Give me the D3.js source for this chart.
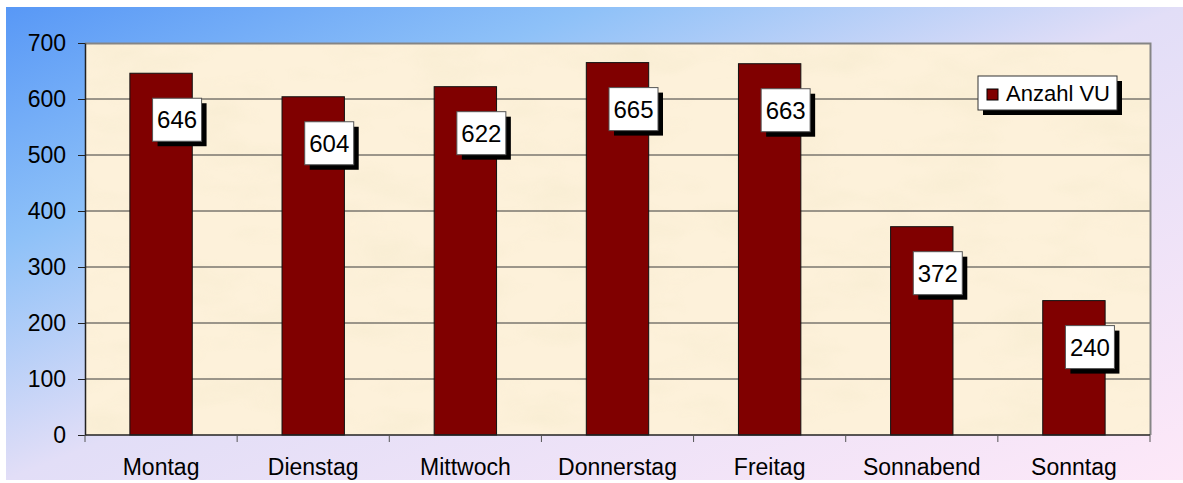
<!DOCTYPE html>
<html>
<head>
<meta charset="utf-8">
<script src="https://cdn.jsdelivr.net/npm/d3@7"></script>
<style>
  body { margin: 0; background: #fff; }
  svg { display: block; font-family: Arial, "Liberation Sans", sans-serif; }
</style>
</head>
<body>
<div id="chart"></div>
<script>
// data
var days = ['Montag', 'Dienstag', 'Mittwoch', 'Donnerstag', 'Freitag', 'Sonnabend', 'Sonntag'];
var anzahlVU = [646, 604, 622, 665, 663, 372, 240];
var yTicks = [0, 100, 200, 300, 400, 500, 600, 700];
var seriesName = 'Anzahl VU';

var W = 1183, H = 483;
var margin = { top: 43, right: 33, bottom: 48, left: 85 },
  width = W - margin.left - margin.right,
  height = H - margin.top - margin.bottom;

var svg = d3.select('#chart').append('svg')
  .attr('width', W)
  .attr('height', H);

var defs = svg.append('defs');
var bgGrad = defs.append('linearGradient')
  .attr('id', 'bg')
  .attr('x1', 0).attr('y1', 0).attr('x2', 1).attr('y2', 1);
bgGrad.append('stop').attr('offset', 0).attr('stop-color', '#5898f6');
bgGrad.append('stop').attr('offset', 0.25).attr('stop-color', '#8ec1f8');
bgGrad.append('stop').attr('offset', 0.5).attr('stop-color', '#e2def7');
bgGrad.append('stop').attr('offset', 1).attr('stop-color', '#fde8f8');

// soft parchment texture
var tex = defs.append('filter').attr('id', 'paper')
  .attr('x', 0).attr('y', 0).attr('width', 1).attr('height', 1);
tex.append('feTurbulence')
  .attr('type', 'fractalNoise')
  .attr('baseFrequency', '0.012 0.03')
  .attr('numOctaves', 3)
  .attr('seed', 4);
tex.append('feColorMatrix')
  .attr('type', 'matrix')
  .attr('values', '0 0 0 0 0.85  0 0 0 0 0.78  0 0 0 0 0.55  0 0 0 -1.6 0.9');
tex.append('feComposite').attr('in2', 'SourceGraphic').attr('operator', 'in');

// outer background
svg.append('rect')
  .attr('x', 6).attr('y', 7)
  .attr('width', W - 6).attr('height', H - 10)
  .attr('fill', 'url(#bg)');

var g = svg.append('g')
  .attr('transform', 'translate(' + margin.left + ',' + margin.top + ')');

var x = d3.scaleBand()
  .domain(days)
  .range([0, width])
  .paddingInner(0.59)
  .paddingOuter(0.295);

var y = d3.scaleLinear()
  .domain([0, 700])
  .range([height, 0]);

// plot area
g.append('rect')
  .attr('width', width).attr('height', height)
  .attr('fill', '#fdf1da');
g.append('rect')
  .attr('width', width).attr('height', height)
  .attr('fill', '#fdf1da')
  .attr('opacity', 0.35)
  .attr('filter', 'url(#paper)');

// grid lines
g.selectAll('.grid')
  .data(yTicks.filter(function(d) { return d > 0 && d < 700; }))
  .enter().append('line')
  .attr('x1', 0).attr('x2', width)
  .attr('y1', function(d) { return y(d); })
  .attr('y2', function(d) { return y(d); })
  .attr('stroke', '#3a3a3a')
  .attr('stroke-width', 1);

// top and right border
g.append('path')
  .attr('d', 'M0,0.5H' + (width + 0.5) + 'V' + height)
  .attr('fill', 'none')
  .attr('stroke', '#858585')
  .attr('stroke-width', 2);

// bars
g.selectAll('.bar')
  .data(anzahlVU)
  .enter().append('rect')
  .attr('x', function(d, i) { return x(days[i]); })
  .attr('y', function(d) { return y(d); })
  .attr('width', x.bandwidth())
  .attr('height', function(d) { return height - y(d); })
  .attr('fill', '#800000')
  .attr('stroke', '#111')
  .attr('stroke-width', 1);

// y axis
var yAxis = g.append('g')
  .call(d3.axisLeft(y).tickValues(yTicks).tickSize(7).tickPadding(12).tickSizeOuter(0));
yAxis.select('.domain').attr('stroke', '#222').attr('stroke-width', 1.5);
yAxis.selectAll('.tick line').attr('stroke', '#222');
yAxis.selectAll('.tick text')
  .attr('font-size', 23)
  .attr('font-family', 'Arial, "Liberation Sans", sans-serif')
  .attr('fill', '#000');

// x axis: ticks at the band borders
var step = x.step();
var xAxis = g.append('g')
  .attr('transform', 'translate(0,' + height + ')');
xAxis.append('line')
  .attr('x1', 0).attr('x2', width)
  .attr('stroke', '#222').attr('stroke-width', 1.5);
xAxis.selectAll('.xt')
  .data(d3.range(days.length + 1))
  .enter().append('line')
  .attr('x1', function(i) { return i * step; })
  .attr('x2', function(i) { return i * step; })
  .attr('y1', 0).attr('y2', 7)
  .attr('stroke', '#555');
xAxis.selectAll('.xl')
  .data(days)
  .enter().append('text')
  .attr('x', function(d) { return x(d) + x.bandwidth() / 2; })
  .attr('y', 40)
  .attr('text-anchor', 'middle')
  .attr('font-size', 23)
  .attr('fill', '#000')
  .text(function(d) { return d; });

// value labels, shifted down and right of the bar top
var boxW = 49, boxH = 43;
var labels = g.selectAll('.lbl')
  .data(anzahlVU)
  .enter().append('g')
  .attr('transform', function(d, i) {
    var cx = x(days[i]) + x.bandwidth() / 2 + 16;
    return 'translate(' + cx + ',' + (y(d) + 25) + ')';
  });
labels.append('rect')
  .attr('x', -boxW / 2 + 5).attr('y', 5)
  .attr('width', boxW).attr('height', boxH)
  .attr('fill', '#000');
labels.append('rect')
  .attr('x', -boxW / 2).attr('y', 0)
  .attr('width', boxW).attr('height', boxH)
  .attr('fill', '#fff')
  .attr('stroke', '#555')
  .attr('stroke-width', 1);
labels.append('text')
  .attr('y', boxH / 2 + 8.5)
  .attr('text-anchor', 'middle')
  .attr('font-size', 24)
  .text(function(d) { return d; });

// legend
var legend = svg.append('g').attr('transform', 'translate(978,76)');
legend.append('rect')
  .attr('x', 5).attr('y', 5).attr('width', 139).attr('height', 34)
  .attr('fill', '#000');
legend.append('rect')
  .attr('width', 139).attr('height', 34)
  .attr('fill', '#fff')
  .attr('stroke', '#333');
legend.append('rect')
  .attr('x', 9).attr('y', 13).attr('width', 11).attr('height', 11)
  .attr('fill', '#800000')
  .attr('stroke', '#000');
legend.append('text')
  .attr('x', 28).attr('y', 25)
  .attr('font-size', 22)
  .text(seriesName);
</script>
</body>
</html>
